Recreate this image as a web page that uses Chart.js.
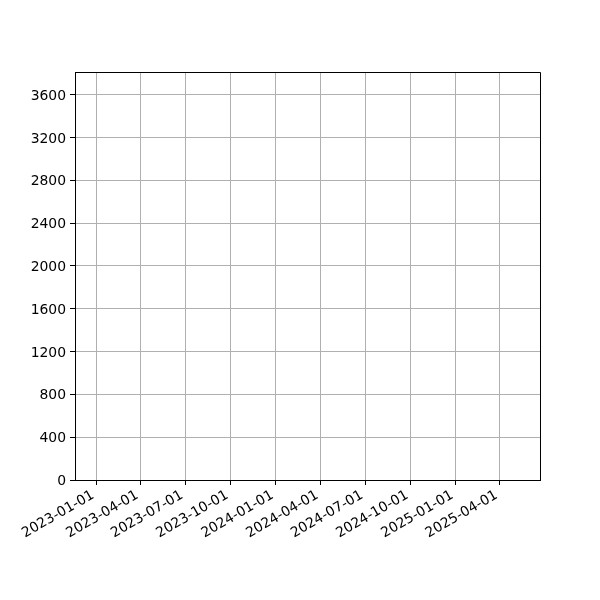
<!DOCTYPE html>
<html>
<head>
<meta charset="utf-8">
<script src="https://cdn.jsdelivr.net/npm/chart.js@4"></script>
<style>
  html, body { margin: 0; padding: 0; background: #fff; }
  #chart { display: block; }
</style>
</head>
<body>
<canvas id="chart" width="600" height="600"></canvas>
<script>
// data (the reference shows an empty axes, so the series has no points)
const seriesDates = [];
const seriesValues = [];

// axes
const xTickLabels = ['2023-01-01','2023-04-01','2023-07-01','2023-10-01','2024-01-01',
                     '2024-04-01','2024-07-01','2024-10-01','2025-01-01','2025-04-01'];
const yTickValues = [0,400,800,1200,1600,2000,2400,2800,3200,3600];
const xRange = ['2022-11-19','2025-06-22'];
const yRange = [0, 3812];

const DAY = 86400000;
const toDay = s => Date.parse(s + 'T00:00:00Z') / DAY;

const xTickValues = xTickLabels.map(toDay);
const points = seriesDates.map((d, i) => ({ x: toDay(d), y: seriesValues[i] }));

const font = { family: '"DejaVu Sans", sans-serif', size: 13.9 };

// top/right spines like the reference frame
const frame = {
    id: 'frame',
    afterDraw(chart){
        const a = chart.chartArea;
        const ctx = chart.ctx;
        ctx.save();
        ctx.strokeStyle = '#000';
        ctx.lineWidth = 1;
        ctx.beginPath();
        ctx.moveTo(a.left, a.top + 0.5);
        ctx.lineTo(a.right + 0.5, a.top + 0.5);
        ctx.lineTo(a.right + 0.5, a.bottom);
        ctx.stroke();
        ctx.restore();
    }
};

new Chart(document.getElementById('chart').getContext('2d'), {
    type: 'line',
    data: {
        datasets: [{ data: points, borderColor: '#1f77b4', backgroundColor: '#1f77b4', pointRadius: 0, borderWidth: 1.5 }]
    },
    options: {
        responsive: false,
        animation: false,
        devicePixelRatio: 1,
        layout: { padding: { top: 72, right: 60, left: 0, bottom: 0 } },
        plugins: { legend: { display: false }, tooltip: { enabled: false } },
        scales: {
            x: {
                type: 'linear',
                min: toDay(xRange[0]),
                max: toDay(xRange[1]),
                afterBuildTicks: s => { s.ticks = xTickValues.map(v => ({ value: v })); },
                afterFit: s => { s.height = 120; },
                ticks: {
                    callback: (v, i) => xTickLabels[i],
                    minRotation: 30, maxRotation: 30, autoSkip: false,
                    font, color: '#000', padding: 2, labelOffset: -3
                },
                grid: { color: '#b0b0b0', lineWidth: 1, tickColor: '#000', tickLength: 5, tickWidth: 1 },
                border: { color: '#000', width: 1 }
            },
            y: {
                min: yRange[0],
                max: yRange[1],
                afterBuildTicks: s => { s.ticks = yTickValues.map(v => ({ value: v })); },
                afterFit: s => { s.width = 75; },
                ticks: { callback: v => String(v), font, color: '#000', padding: 4, labelOffset: 1.5 },
                grid: { color: '#b0b0b0', lineWidth: 1, tickColor: '#000', tickLength: 5, tickWidth: 1 },
                border: { color: '#000', width: 1 }
            }
        }
    },
    plugins: [frame]
});
</script>
</body>
</html>
